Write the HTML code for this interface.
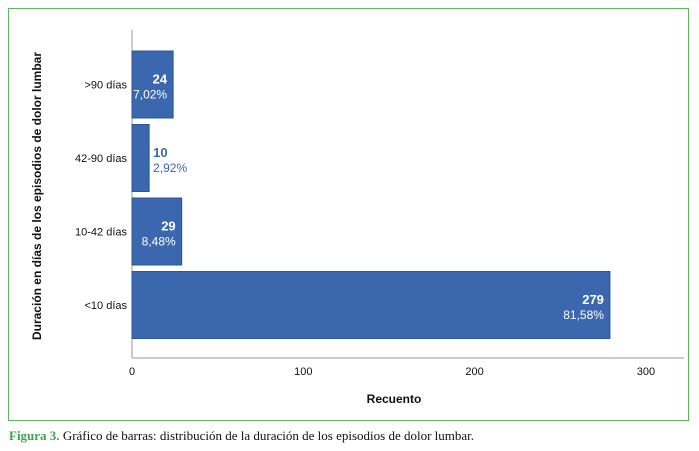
<!DOCTYPE html>
<html><head><meta charset="utf-8"><style>
body{margin:0;width:699px;height:451px;background:#fff;overflow:hidden;font-family:"Liberation Sans",sans-serif}
#frame{position:absolute;left:8px;top:8px;width:681px;height:413px;border:1px solid #5cb85c;box-sizing:border-box}
#cap{position:absolute;left:9px;top:428px;font-family:"Liberation Serif",serif;font-size:13px;color:#111;white-space:nowrap}
#cap b{color:#3aa54a}
</style></head><body>
<div id="frame"></div>
<svg id="chart" width="699" height="451" style="position:absolute;left:0;top:0"></svg>
<div id="cap"><b>Figura 3.</b> Gráfico de barras: distribución de la duración de los episodios de dolor lumbar.</div>
<script>
const categories=[">90 días","42-90 días","10-42 días","<10 días"];
const counts=[24,10,29,279];
const percents=["7,02%","2,92%","8,48%","81,58%"];
const xTicks=[0,100,200,300];
const NS="http://www.w3.org/2000/svg";
const svg=document.getElementById('chart');
const x0=132,pxPer=1.713,top0=47,band=73.5,barH=67;
const xs=v=>x0+v*pxPer;
function el(t,a,txt){const e=document.createElementNS(NS,t);for(const k in a)e.setAttribute(k,a[k]);if(txt!=null)e.textContent=txt;svg.appendChild(e);return e;}
let ax=el('line',{x1:x0,y1:30,x2:x0,y2:358,stroke:'#999','stroke-width':1});

let bx=el('line',{x1:x0,y1:358,x2:684,y2:358,stroke:'#999','stroke-width':1});

xTicks.forEach(t=>{const e=el('text',{x:xs(t),y:375,'font-size':11,'text-anchor':'middle',fill:'#111'},t);
});
categories.forEach((c,i)=>{
 const y=top0+i*band+4, w=xs(counts[i])-x0;
 const r=el('rect',{x:x0,y:y,width:w,height:barH,fill:'#3a67ae',stroke:'#2c5496','stroke-width':1});
 
 const l=el('text',{x:127,y:y+barH/2+4,'font-size':11,'text-anchor':'end',fill:'#111'},c);
 
 const inside=w>30;
 const tx=inside?xs(counts[i])-6:xs(counts[i])+4, anc=inside?'end':'start', col=inside?'#fff':'#3a67ae';
 const v=el('text',{x:tx,y:y+barH/2-1,'font-size':13,'font-weight':'bold','text-anchor':anc,fill:col},counts[i]);
 
 const p=el('text',{x:tx,y:y+barH/2+14,'font-size':12,'text-anchor':anc,fill:col},percents[i]);
 
});
const xt=el('text',{x:394,y:403,'font-size':12,'font-weight':'bold','text-anchor':'middle',fill:'#111'},'Recuento');

const yt=el('text',{x:0,y:0,'font-size':12,'font-weight':'bold','text-anchor':'middle',fill:'#111',transform:'translate(41,196) rotate(-90)'},'Duración en días de los episodios de dolor lumbar');

</script>
</body></html>
